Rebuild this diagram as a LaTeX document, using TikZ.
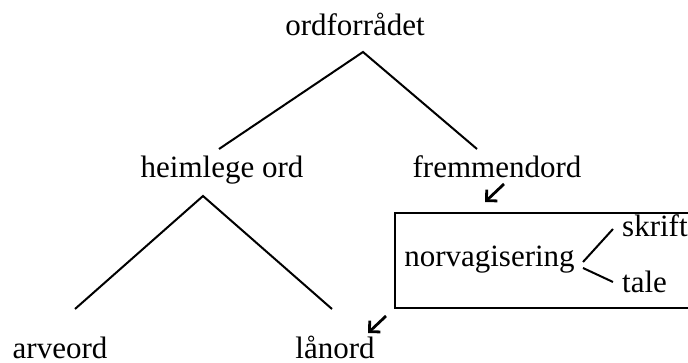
\documentclass[tikz,border=0pt]{standalone}
\usepackage{fontspec}
\setmainfont{Liberation Serif}
\usetikzlibrary{positioning}
\usetikzlibrary{arrows.meta}
\tikzstyle{word} = [inner sep=0pt, anchor=base]
\tikzstyle{branch} = [draw, line width=2pt]
\tikzstyle{pointer} = [draw, line width=2.8pt, -{Straight Barb[angle=90:11pt]}]

\begin{document}
\begin{tikzpicture}[x=1pt,y=-1pt,font=\fontsize{31}{36}\selectfont]
  \useasboundingbox (0,0) rectangle (688,363);

  \node[word] (ord)  at (355,36)  {ordforrådet};
  \node[word] (heim) at (222,178) {heimlege ord};
  \node[word] (frem) at (497,178) {fremmendord};
  \node[word] (arv)  at (60,358)  {arveord};
  \node[word] (lan)  at (335,358) {lånord};
  \node[word] (norv) at (489.5,267) {norvagisering};
  \node[word, anchor=base west] (skrift) at (622,237) {skrift};
  \node[word, anchor=base west] (tale)   at (622,293) {tale};

  % the tree
  \draw[branch] ([shift={(-3,-29)}]heim.base) -- ([shift={(8,16)}]ord.base)
                -- ([shift={(-20,-29)}]frem.base);
  \draw[branch] ([shift={(15,-49)}]arv.base) -- ([shift={(-19,18)}]heim.base)
                -- ([shift={(-3,-49)}]lan.base);

  % norwegianised loans
  \draw[line width=2pt] (395,213) rectangle (700,308);
  \draw[branch] ([shift={(93.5,-5)}]norv.base) -- ([shift={(-9,-8)}]skrift.base west);
  \draw[branch] ([shift={(93.5,1)}]norv.base) -- ([shift={(-9,-11)}]tale.base west);

  \draw[pointer] ([shift={(7,6)}]frem.base) -- ([shift={(-12,24)}]frem.base);
  \draw[pointer] ([shift={(51,-42)}]lan.base) -- ([shift={(33,-25)}]lan.base);
\end{tikzpicture}
\end{document}
